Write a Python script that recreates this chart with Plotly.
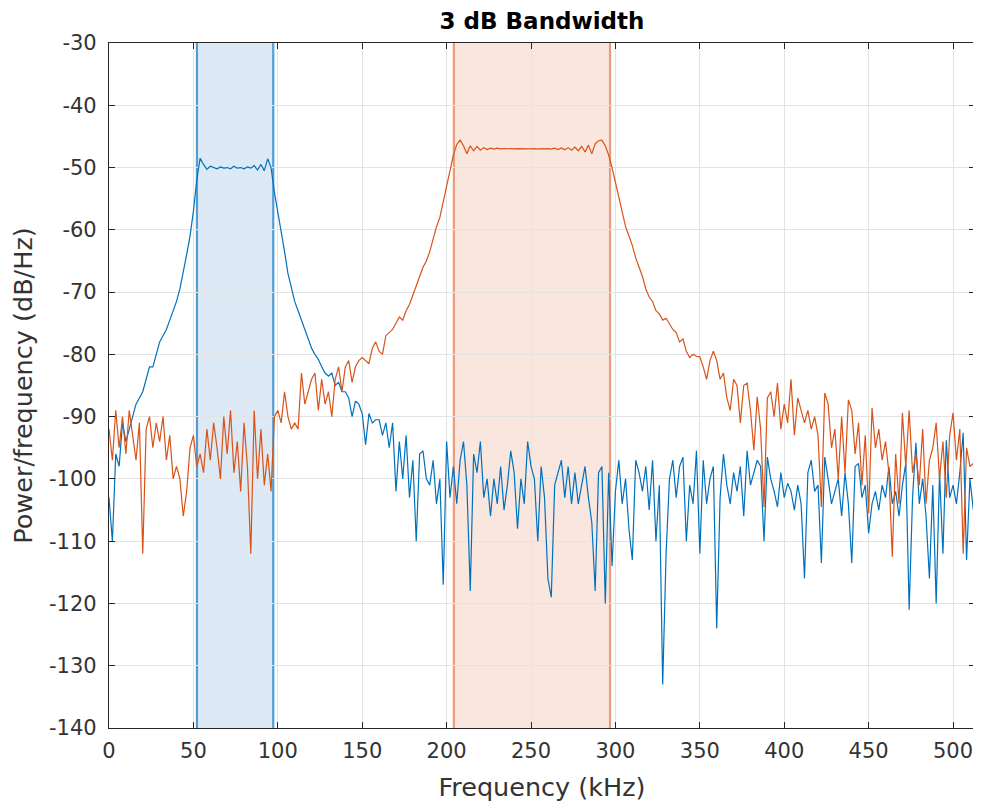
import numpy as np
import plotly.graph_objects as go

# Frequency grid (kHz), 2 kHz spacing
freq_khz = list(range(0, 514, 2))

# Signal 1 PSD (dB/Hz)
psd_sig1 = [
    -103, -110, -96, -98, -91, -94, -92, -90, -88, -87,
    -86, -84, -82, -82, -80, -78, -77, -76, -74.5, -73,
    -71.5, -69.5, -67, -64, -61, -57, -52, -48.5, -49.5, -50.3,
    -49.8, -50, -50.2, -49.9, -50.1, -50, -50.2, -49.8, -50.1, -50,
    -50.2, -49.9, -50.1, -49.7, -50.4, -49.5, -50.5, -48.6, -50, -54,
    -57, -60, -63.5, -67, -69.5, -71.5, -73, -74.5, -76, -77.5,
    -79, -80, -80.8, -82, -83, -83.5, -83, -85, -84.5, -86,
    -86, -87, -90, -87.5, -88, -89.5, -94.5, -89.5, -91, -90.5,
    -90.5, -93, -91, -95, -91, -102, -94, -100, -93, -103,
    -97, -110, -96, -95.5, -100, -101, -97, -104, -100, -117,
    -94, -103, -98, -104, -97, -94, -101, -118, -96, -99,
    -94, -103, -100, -106, -100, -104, -98, -105, -101, -95.5,
    -99, -108, -100, -104, -94, -98, -100, -110, -98, -103,
    -116, -119, -101, -99, -97, -103, -98, -104, -99, -104,
    -101, -98, -103, -107, -118, -99, -98, -120, -99, -114,
    -102, -97, -104, -100, -108, -113, -97, -99, -102, -98,
    -105, -97, -110, -101, -133, -112, -100, -97, -103, -98,
    -96.5, -110, -101, -104, -95.5, -112, -97, -104, -100, -98,
    -124, -103, -96, -101, -104, -99, -102, -98, -106, -95.5,
    -101, -99, -97, -98, -110, -96.5, -100, -102, -104.5, -99,
    -103, -100.7, -102, -105, -101, -104, -116, -99, -97, -102,
    -101, -113.5, -96.5, -100, -104, -102, -100, -106, -99, -104,
    -113.5, -98, -97.5, -103, -101, -108.7, -104, -102, -105, -101,
    -103, -98, -104, -102, -106, -101, -97.5, -121, -103, -94.2,
    -104, -100, -106, -116, -101, -120, -99, -112, -93.8, -103,
    -101, -104, -99, -92.6, -113, -100, -105,
]

# Signal 2 PSD (dB/Hz)
psd_sig2 = [
    -92, -97, -89, -95, -90, -96, -89, -93, -97, -91,
    -112, -92, -90, -95, -91, -94, -90, -97, -93, -100,
    -98, -100, -106, -102, -95, -93, -98, -96, -99, -92,
    -97, -91, -95, -100, -90, -96, -89, -99, -94, -102,
    -91, -98, -112, -89, -100, -92, -101, -96, -102, -90,
    -89, -91, -86, -90, -92, -91, -92, -83, -88, -86,
    -84, -83, -89, -84, -88, -86, -90, -84, -82, -86,
    -82, -81, -84.5, -82, -81, -80.5, -81, -81.5, -79, -78,
    -79.5, -80, -77, -76.5, -76, -75, -74, -74.5, -73, -72,
    -70.5, -69, -67.5, -66, -65, -63.5, -61.5, -59.5, -58, -55.5,
    -53, -50.5, -48, -46.3, -45.6, -46.5, -47.8, -46.5, -47.3, -46.6,
    -47.2, -46.8, -47.1, -46.9, -47.05, -46.9, -47, -46.95, -47, -46.95,
    -47, -46.95, -47, -46.95, -47, -47, -46.95, -47.05, -46.95, -47,
    -46.95, -47.05, -46.9, -47.1, -46.85, -47.15, -46.8, -47.2, -46.7, -47.3,
    -46.6, -47.5, -46.4, -47.8, -46.2, -45.7, -45.6, -46.5, -48, -50,
    -52.5, -55, -57.5, -59.5, -61, -62.5, -64.5, -66, -67.5, -69.5,
    -70.8, -71.5, -73, -73.5, -74.5, -74.2, -75, -76, -76.5, -78,
    -77.5, -79.5, -80.5, -80, -80.3, -80.4, -82, -84, -81, -79.5,
    -81, -84, -83, -87, -89, -84, -85, -91, -85, -84.6,
    -89, -95.4, -86.8, -92, -104.5, -87, -86, -90, -84.6, -92,
    -88, -91, -84, -93, -87, -89, -91, -89, -92, -90,
    -93, -104.5, -86.2, -88, -95, -92, -100, -90, -99, -87.3,
    -89, -96, -91, -101, -93, -105.5, -88.6, -95, -92, -97,
    -94, -99, -112.5, -96, -104, -89.4, -98, -89, -99, -96,
    -101, -92, -104, -97, -95, -91, -100, -94, -103, -93,
    -89.4, -97, -92, -112, -95, -98, -97.5,
]

# 3 dB bandwidth limits (kHz)
band_sig1 = [52.1, 97.3]
band_sig2 = [204.3, 296.8]

x_ticks = list(range(0, 501, 50))
y_ticks = list(range(-140, -29, 10))
y_tick_text = ["%d" % v for v in y_ticks]  # plain hyphen minus, as in the reference

BLUE = "#0072BD"
ORANGE = "#D95319"
TXT = "#262626"
FONT = "DejaVu Sans, Liberation Sans, sans-serif"

fig = go.Figure()

# shaded bands
for (lo, hi), fill, edge in [
    (band_sig1, "#dde9f4", "#519dd4"),
    (band_sig2, "#f8e6df", "#eb9a7a"),
]:
    fig.add_shape(type="rect", xref="x", yref="paper", x0=lo, x1=hi, y0=0, y1=1,
                  fillcolor=fill, line=dict(width=0), layer="below")
    for xv in (lo, hi):
        fig.add_shape(type="line", xref="x", yref="paper", x0=xv, x1=xv, y0=0, y1=1,
                      line=dict(color=edge, width=2.2), layer="below")

fig.add_trace(go.Scatter(x=freq_khz, y=psd_sig1, mode="lines",
                         line=dict(color=BLUE, width=1.2), showlegend=False))
fig.add_trace(go.Scatter(x=freq_khz, y=psd_sig2, mode="lines",
                         line=dict(color=ORANGE, width=1.2), showlegend=False))

axis_common = dict(
    showline=True, linecolor=TXT, linewidth=1.2, mirror="ticks",
    ticks="inside", ticklen=6, tickcolor=TXT, tickwidth=1.2,
    showgrid=True, gridcolor="#e3e3e3", gridwidth=1, automargin=False,
    zeroline=False, tickfont=dict(family=FONT, size=21, color="#333333"),
)

fig.update_xaxes(range=[0, 513], tickvals=x_ticks, ticklabelstandoff=4,
                 title=dict(text="Frequency (kHz)", font=dict(family=FONT, size=25.5, color="#333333"), standoff=15),
                 **axis_common)
fig.update_yaxes(range=[-140, -30], tickvals=y_ticks, ticktext=y_tick_text, ticklabelstandoff=7,
                 title=dict(text="Power/frequency (dB/Hz)", font=dict(family=FONT, size=25.5, color="#333333"), standoff=9),
                 **axis_common)

# page has an 8 px body margin, so the figure is 8 px smaller than the window
fig.update_layout(
    width=973, height=800,
    margin=dict(l=101, r=6, t=35, b=80, autoexpand=False),
    plot_bgcolor="white", paper_bgcolor="white",
    title=dict(text="<b>3 dB Bandwidth</b>", x=(101 + 967) / 2 / 973, xanchor="center",
               y=1 - 13 / 800, yanchor="middle", yref="container",
               font=dict(family=FONT, size=23, color="#000000")),
)

fig.write_html("out.html")
